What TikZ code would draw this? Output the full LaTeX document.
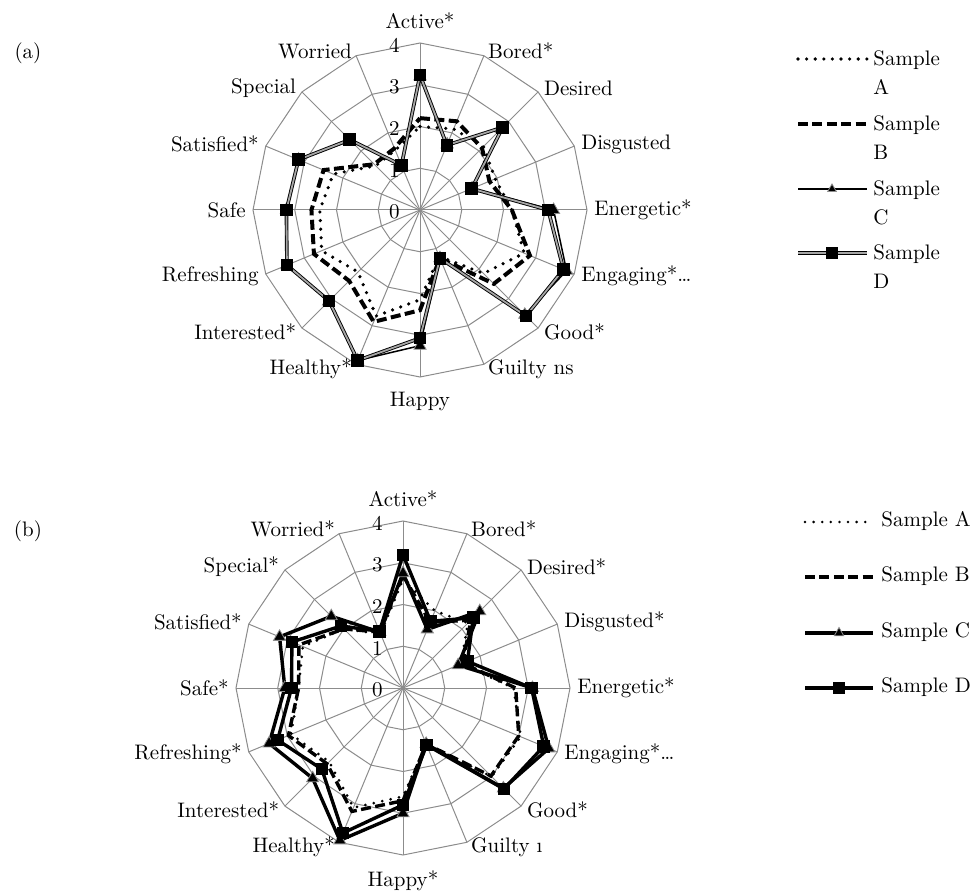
\documentclass[tikz,border=0pt]{standalone}
\usetikzlibrary{shapes.geometric}

\def\ru{41.75}% one ring step of the radar, in px

\tikzset{
  grid line/.style={draw=black!45, line width=0.5pt},
  axis label/.style={font=\fontsize{10.5}{12}\selectfont, inner sep=1pt},
  ring label/.style={font=\fontsize{10.5}{12}\selectfont, inner sep=0pt, anchor=east},
  key text/.style={font=\fontsize{10.5}{14.5}\selectfont, inner sep=0pt, align=left},
  dotline/.style={line width=1.8pt, line cap=round, dash pattern=on 0pt off 4.3pt},
  dashline/.style={line width=2pt, dash pattern=on 5pt off 2.2pt},
  thinline/.style={line width=0.75pt, line join=round},
  dblline/.style={draw=black, line width=0.45pt, double=black!35, double distance=0.9pt, line join=round},
  thickline/.style={line width=1.7pt, line join=round},
  tri/.style={regular polygon, regular polygon sides=3, fill=black, draw=black!45, line width=0.4pt, inner sep=0pt, minimum size=#1},
  sq/.style={rectangle, fill=black, inner sep=0pt, minimum size=#1},
}

\begin{document}
\begin{tikzpicture}[x=0.5pt, y=-0.5pt]
\useasboundingbox (0,0) rectangle (974,893);

% ---- chart (a)
\node[font=\fontsize{10.5}{12}\selectfont] (pa) at (28,53) {(a)};
\begin{scope}[shift={(420,210)}]
  \foreach \n in {0,...,15}
    \draw[grid line] (0,0) -- ({-90+22.5*\n}:{4*\ru});
  \foreach \m in {1,...,4}
    \draw[grid line] (-90:{\m*\ru}) \foreach \n in {1,...,15}{ -- ({-90+22.5*\n}:{\m*\ru})} -- cycle;
  \foreach \m in {0,...,4}
    \node[ring label] (ra\m) at (-20,{2-\m*\ru}) {\m};
  \foreach \lab/\anc/\off [count=\n from 0] in {Active*/south/12, Bored*/west/5, Desired/west/5, Disgusted/west/5,
      Energetic*/west/5, Engaging*\ldots/west/5, Good*/west/5, Guilty ns/west/5, Happy/north/13,
      Healthy*/east/5, Interested*/east/5, Refreshing/east/5, Safe/east/5, Satisfied*/east/5, Special/east/5, Worried/east/5}
    \node[axis label, anchor=\anc] (la\n) at ({-90+22.5*\n}:{4*\ru+\off}) {\lab};

  % sample A
  \foreach \v [count=\n from 0] in {2.0,2.1,2.15,1.95,2.2,2.7,2.15,1.2,2.15,2.75,2.1,2.55,2.4,2.25,1.5,1.55}
    \coordinate (aA\n) at ({-90+22.5*\n}:{\v*\ru});
  \draw[dotline] (aA0) \foreach \n in {1,...,15}{ -- (aA\n)} -- cycle;
  % sample B
  \foreach \v [count=\n from 0] in {2.2,2.3,2.1,1.8,2.2,2.85,2.5,1.25,2.4,2.9,2.4,2.75,2.6,2.5,1.55,1.6}
    \coordinate (aB\n) at ({-90+22.5*\n}:{\v*\ru});
  \draw[dashline] (aB0) \foreach \n in {1,...,15}{ -- (aB\n)} -- cycle;
  % sample C
  \foreach \v [count=\n from 0] in {3.2,1.7,2.75,1.35,3.2,3.8,3.55,1.25,3.25,3.9,3.1,3.45,3.2,3.15,2.35,1.15}
    \coordinate (aC\n) at ({-90+22.5*\n}:{\v*\ru});
  \draw[thinline] (aC0) \foreach \n in {1,...,15}{ -- (aC\n)} -- cycle;
  \foreach \n in {0,...,15}
    \node[tri=7pt] (maC\n) at (aC\n) {};
  % sample D
  \foreach \v [count=\n from 0] in {3.23,1.68,2.8,1.34,3.07,3.72,3.59,1.25,3.07,3.9,3.08,3.45,3.2,3.15,2.38,1.16}
    \coordinate (aD\n) at ({-90+22.5*\n}:{\v*\ru});
  \draw[dblline] (aD0) \foreach \n in {1,...,15}{ -- (aD\n)} -- cycle;
  \foreach \n in {0,...,15}
    \node[sq=6.3pt] (maD\n) at (aD\n) {};
\end{scope}

% legend (a)
\draw[dotline] (798,59) -- (867,59);
\draw[dashline] (798,124) -- (867,124);
\draw[thinline] (798,189) -- (867,189);
\node[tri=5pt] (kaC) at (832,189) {};
\draw[dblline] (798,253) -- (867,253);
\node[sq=6pt] (kaD) at (832,253) {};
\node[key text, anchor=north west] (ka1) at (873,50) {Sample\\A};
\node[key text, anchor=north west] (ka2) at (873,115) {Sample\\B};
\node[key text, anchor=north west] (ka3) at (873,180) {Sample\\C};
\node[key text, anchor=north west] (ka4) at (873,244) {Sample\\D};

% ---- chart (b)
\node[font=\fontsize{10.5}{12}\selectfont] (pb) at (28,531) {(b)};
\begin{scope}[shift={(403,688)}]
  \foreach \n in {0,...,15}
    \draw[grid line] (0,0) -- ({-90+22.5*\n}:{4*\ru});
  \foreach \m in {1,...,4}
    \draw[grid line] (-90:{\m*\ru}) \foreach \n in {1,...,15}{ -- ({-90+22.5*\n}:{\m*\ru})} -- cycle;
  \foreach \m in {0,...,4}
    \node[ring label] (rb\m) at (-20,{2-\m*\ru}) {\m};
  \foreach \lab/\anc/\off [count=\n from 0] in {Active*/south/12, Bored*/west/5, Desired*/west/5, Disgusted*/west/5,
      Energetic*/west/5, Engaging*\ldots/west/5, Good*/west/5, Guilty {\i}/west/5, Happy*/north/13,
      Healthy*/east/5, Interested*/east/5, Refreshing*/east/5, Safe*/east/5, Satisfied*/east/5, Special*/east/5, Worried*/east/5}
    \node[axis label, anchor=\anc] (lb\n) at ({-90+22.5*\n}:{4*\ru+\off}) {\lab};

  % sample A
  \foreach \v [count=\n from 0] in {2.6,2.0,2.2,1.5,2.65,3.05,3.0,1.45,2.6,3.1,2.5,2.9,2.5,2.6,2.0,1.4}
    \coordinate (bA\n) at ({-90+22.5*\n}:{\v*\ru});
  \draw[dotline, line width=1.5pt] (bA0) \foreach \n in {1,...,15}{ -- (bA\n)} -- cycle;
  % sample B
  \foreach \v [count=\n from 0] in {2.7,1.7,2.3,1.55,2.7,3.0,2.98,1.45,2.7,3.2,2.57,2.97,2.5,2.7,2.0,1.45}
    \coordinate (bB\n) at ({-90+22.5*\n}:{\v*\ru});
  \draw[dashline, line width=1.7pt] (bB0) \foreach \n in {1,...,15}{ -- (bB\n)} -- cycle;
  % sample C
  \foreach \v [count=\n from 0] in {2.75,1.52,2.6,1.43,3.1,3.78,3.4,1.45,3.0,3.95,3.06,3.47,2.83,3.2,2.43,1.45}
    \coordinate (bC\n) at ({-90+22.5*\n}:{\v*\ru});
  \draw[thickline] (bC0) \foreach \n in {1,...,15}{ -- (bC\n)} -- cycle;
  \foreach \n in {0,...,15}
    \node[tri=7pt] (mbC\n) at (bC\n) {};
  % sample D
  \foreach \v [count=\n from 0] in {3.19,1.73,2.38,1.67,3.08,3.65,3.42,1.48,2.8,3.76,2.75,3.25,2.67,2.88,2.1,1.47}
    \coordinate (bD\n) at ({-90+22.5*\n}:{\v*\ru});
  \draw[thickline] (bD0) \foreach \n in {1,...,15}{ -- (bD\n)} -- cycle;
  \foreach \n in {0,...,15}
    \node[sq=6.3pt] (mbD\n) at (bD\n) {};
\end{scope}

% legend (b)
\draw[dotline, line width=1.4pt] (805,522) -- (873,522);
\draw[dashline, line width=1.7pt] (805,577) -- (873,577);
\draw[thickline] (805,633) -- (873,633);
\node[tri=5.5pt] (kbC) at (839,633) {};
\draw[thickline] (805,688) -- (873,688);
\node[sq=6pt] (kbD) at (839,688) {};
\node[key text, anchor=west] (kb1) at (881,521) {Sample A};
\node[key text, anchor=west] (kb2) at (881,576) {Sample B};
\node[key text, anchor=west] (kb3) at (881,632) {Sample C};
\node[key text, anchor=west] (kb4) at (881,687) {Sample D};
\end{tikzpicture}
\end{document}
